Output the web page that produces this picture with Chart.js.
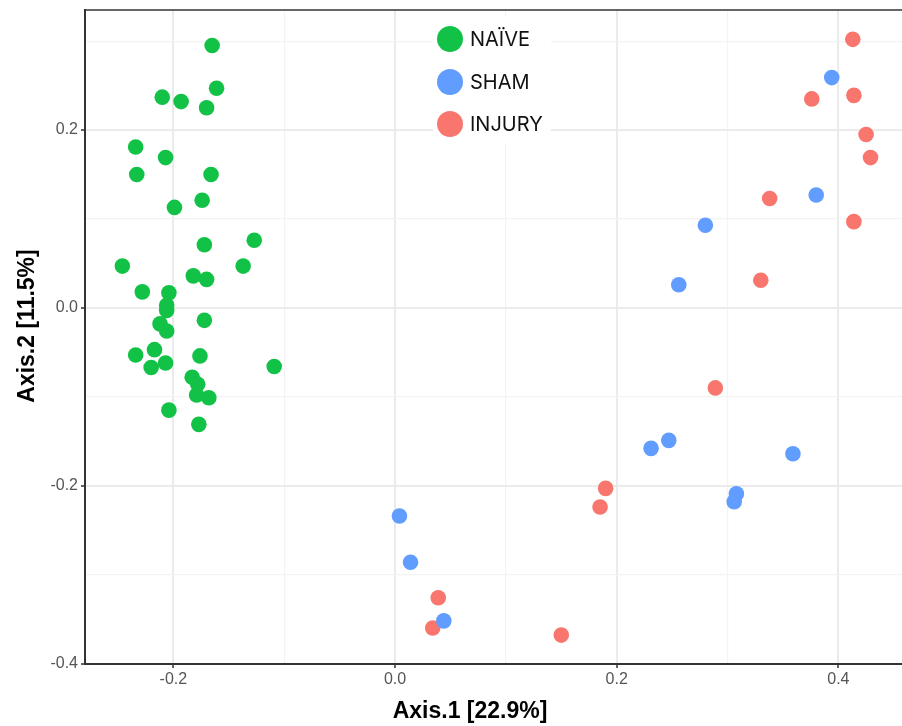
<!DOCTYPE html>
<html>
<head>
<meta charset="utf-8">
<script src="https://cdn.jsdelivr.net/npm/chart.js@4/dist/chart.umd.min.js"></script>
<style>
  html, body { margin: 0; padding: 0; background: #fff; }
  #wrap { width: 902px; height: 726px; }
</style>
</head>
<body>
<div id="wrap"><canvas id="pcoa" width="902" height="726"></canvas></div>
<script>
// Group labels and colours
const groupLabels = ["NAÏVE", "SHAM", "INJURY"];
const groupColors = ["#12c247", "#619cff", "#f8766d"];

// Axis titles
const xTitle = "Axis.1 [22.9%]";
const yTitle = "Axis.2 [11.5%]";

// Point coordinates
const naiveX = [-0.165, -0.161, -0.210, -0.193, -0.170, -0.234, -0.207, -0.233, -0.166, -0.174,
  -0.199, -0.172, -0.127, -0.246, -0.137, -0.182, -0.170, -0.228, -0.204, -0.206,
  -0.206, -0.172, -0.212, -0.206, -0.217, -0.234, -0.176, -0.207, -0.220, -0.109,
  -0.183, -0.178, -0.179, -0.168, -0.204, -0.177];
const naiveY = [0.295, 0.247, 0.237, 0.232, 0.225, 0.181, 0.169, 0.150, 0.150, 0.121,
  0.113, 0.071, 0.076, 0.047, 0.047, 0.036, 0.032, 0.018, 0.017, 0.003,
  -0.003, -0.014, -0.018, -0.026, -0.047, -0.053, -0.054, -0.062, -0.067, -0.066,
  -0.078, -0.086, -0.098, -0.101, -0.115, -0.131];

const shamX = [0.394, 0.380, 0.280, 0.256, 0.247, 0.231, 0.359, 0.308, 0.306, 0.044, 0.004, 0.014];
const shamY = [0.259, 0.127, 0.093, 0.026, -0.149, -0.158, -0.164, -0.209, -0.218, -0.352, -0.234, -0.286];

const injuryX = [0.413, 0.414, 0.376, 0.425, 0.429, 0.338, 0.414, 0.330, 0.289, 0.190, 0.185, 0.039, 0.034, 0.150];
const injuryY = [0.302, 0.239, 0.235, 0.195, 0.169, 0.123, 0.097, 0.031, -0.090, -0.203, -0.224, -0.326, -0.360, -0.368];

function toPoints(xs, ys) {
  return xs.map((x, i) => ({ x: x, y: ys[i] }));
}

const seriesData = [toPoints(naiveX, naiveY), toPoints(shamX, shamY), toPoints(injuryX, injuryY)];

function isMajor(v) {
  return Math.round(v * 10) % 2 === 0;
}

const tickFont = { family: "'Liberation Sans', Arial, sans-serif", size: 16 };

// Draws top frame line, axis titles and the in-plot legend
const decorPlugin = {
  id: "decor",
  beforeDatasetsDraw(chart) {
    const ctx = chart.ctx;
    ctx.save();
    ctx.fillStyle = "#fff";
    ctx.fillRect(433, 16, 118, 127);
    ctx.restore();
  },
  afterDraw(chart) {
    const ctx = chart.ctx;
    const area = chart.chartArea;
    ctx.save();
    // top frame
    ctx.strokeStyle = "#333";
    ctx.lineWidth = 1.5;
    ctx.beginPath();
    ctx.moveTo(area.left, area.top);
    ctx.lineTo(area.right, area.top);
    ctx.stroke();

    // legend
    const legendY = [39, 82, 124];
    groupLabels.forEach((lab, i) => {
      ctx.beginPath();
      ctx.arc(450, legendY[i], 13, 0, Math.PI * 2);
      ctx.fillStyle = groupColors[i];
      ctx.fill();
      ctx.fillStyle = "#111";
      ctx.font = "20px Inter, 'Noto Sans', sans-serif";
      ctx.textAlign = "left";
      ctx.textBaseline = "middle";
      ctx.fillText(lab, 470, legendY[i] + 1);
    });

    // axis titles
    ctx.fillStyle = "#000";
    ctx.font = "bold 23px 'Liberation Sans', Arial, sans-serif";
    ctx.textAlign = "center";
    ctx.textBaseline = "middle";
    ctx.fillText(xTitle, 470, 712);
    ctx.translate(28, 326);
    ctx.rotate(-Math.PI / 2);
    ctx.fillText(yTitle, 0, 0);
    ctx.restore();
  }
};

const pcoaChart = new Chart(document.getElementById("pcoa"), {
  type: "scatter",
  data: {
    datasets: groupLabels.map((lab, i) => ({
      label: lab,
      data: seriesData[i],
      backgroundColor: groupColors[i],
      borderColor: groupColors[i],
      borderWidth: 0,
      pointRadius: 7.8,
      pointHoverRadius: 7.8
    }))
  },
  options: {
    responsive: false,
    animation: false,
    events: [],
    layout: { autoPadding: false, padding: { top: 10, right: 0, left: 0, bottom: 0 } },
    plugins: {
      legend: { display: false },
      tooltip: { enabled: false }
    },
    scales: {
      x: {
        type: "linear",
        min: -0.2797,
        max: 0.4574,
        afterFit: (scale) => {
          scale.height = 62;
          scale.paddingLeft = 0;
          scale.paddingRight = 0;
        },
        ticks: {
          stepSize: 0.1,
          includeBounds: false,
          padding: 2,
          color: "#555",
          font: tickFont,
          autoSkip: false,
          maxRotation: 0,
          callback: (v) => isMajor(v) ? v.toFixed(1) : ""
        },
        grid: {
          color: (c) => isMajor(c.tick.value) ? "#ebebeb" : "#f3f3f3",
          lineWidth: (c) => isMajor(c.tick.value) ? 2 : 1.2,
          tickColor: (c) => isMajor(c.tick.value) ? "#333" : "rgba(0,0,0,0)",
          tickLength: 4,
          tickWidth: 1.5
        },
        border: { color: "#333", width: 2 }
      },
      y: {
        type: "linear",
        min: -0.4005,
        max: 0.335,
        afterFit: (scale) => {
          scale.width = 85;
          scale.paddingTop = 0;
          scale.paddingBottom = 0;
        },
        ticks: {
          stepSize: 0.1,
          includeBounds: false,
          padding: 3,
          color: "#555",
          font: tickFont,
          autoSkip: false,
          callback: (v) => isMajor(v) ? v.toFixed(1) : ""
        },
        grid: {
          color: (c) => isMajor(c.tick.value) ? "#ebebeb" : "#f3f3f3",
          lineWidth: (c) => isMajor(c.tick.value) ? 2 : 1.2,
          tickColor: (c) => isMajor(c.tick.value) ? "#333" : "rgba(0,0,0,0)",
          tickLength: 4,
          tickWidth: 1.5
        },
        border: { color: "#333", width: 2 }
      }
    }
  },
  plugins: [decorPlugin]
});
</script>
</body>
</html>
